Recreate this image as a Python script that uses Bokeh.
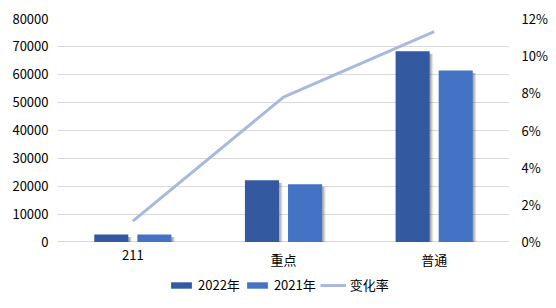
from bokeh.plotting import figure
from bokeh.models import (FactorRange, Range1d, LinearAxis, FixedTicker, NumeralTickFormatter,
                          ColumnDataSource, Legend, LegendItem, BoxAnnotation)
from bokeh.core.properties import value
from bokeh.transform import dodge
from bokeh.embed import file_html
from bokeh.resources import INLINE

categories = ["211", "重点", "普通"]
v2022 = [2700, 22100, 68300]
v2021 = [2650, 20700, 61400]
rate = [0.0112, 0.0778, 0.1130]
left_ticks = [0, 10000, 20000, 30000, 40000, 50000, 60000, 70000, 80000]
right_ticks = [0, 0.02, 0.04, 0.06, 0.08, 0.10, 0.12]

FONT = "Noto Sans CJK SC"
DARK = "#335AA1"
LIGHT = "#4472C4"
LINE = "#A9B8DD"
GRID = "#D9D9D9"

src = ColumnDataSource(dict(cat=categories, v2022=v2022, v2021=v2021, rate=rate,
                            zero=[0, 0, 0],
                            s2022=[v - 900 for v in v2022], s2021=[v - 900 for v in v2021]))

# frame extends below the zero line to leave room for category labels and legend
p = figure(width=556, height=308, x_range=FactorRange(*categories, range_padding=0),
           y_range=Range1d(-22040, 80000), output_backend="svg", toolbar_location=None,
           min_border_left=57, min_border_right=47, min_border_top=18, min_border_bottom=5)
p.extra_y_ranges = {"pct": Range1d(-0.03306, 0.12)}
p.background_fill_color = "white"
p.border_fill_color = "white"
p.outline_line_color = None

# soft shadows
for off, a in [(0.024, 0.08), (0.017, 0.12), (0.010, 0.16)]:
    p.vbar(x=dodge("cat", -0.143 + off, range=p.x_range), top="s2022", bottom=0, width=0.226,
           source=src, fill_color="#000000", fill_alpha=a, line_color=None)
    p.vbar(x=dodge("cat", 0.143 + off, range=p.x_range), top="s2021", bottom=0, width=0.226,
           source=src, fill_color="#000000", fill_alpha=a, line_color=None)

r1 = p.vbar(x=dodge("cat", -0.143, range=p.x_range), top="v2022", width=0.226, source=src,
            fill_color=DARK, line_color=None)
r2 = p.vbar(x=dodge("cat", 0.143, range=p.x_range), top="v2021", width=0.226, source=src,
            fill_color=LIGHT, line_color=None)
r3 = p.line(x="cat", y="rate", source=src, y_range_name="pct", line_color=LINE, line_width=3)

# category labels
p.text(x="cat", y="zero", text="cat", source=src, y_offset=8, text_align="center",
       text_baseline="top", text_font=value(FONT), text_font_size="13px", text_color="#000000")

p.xaxis.visible = False
p.xgrid.visible = False
p.ygrid.grid_line_color = GRID
p.ygrid.ticker = FixedTicker(ticks=left_ticks)

ya = p.yaxis[0]
ya.ticker = FixedTicker(ticks=left_ticks)
ya.axis_line_color = None
ya.major_tick_line_color = None
ya.minor_tick_line_color = None
ya.major_label_text_font = FONT
ya.major_label_text_font_size = "13px"
ya.major_label_text_color = "#000000"
ya.major_label_standoff = 3

ra = LinearAxis(y_range_name="pct", ticker=FixedTicker(ticks=right_ticks),
                formatter=NumeralTickFormatter(format="0%"))
ra.axis_line_color = None
ra.major_tick_line_color = None
ra.minor_tick_line_color = None
ra.major_label_text_font = FONT
ra.major_label_text_font_size = "13px"
ra.major_label_text_color = "#000000"
ra.major_label_standoff = 6
p.add_layout(ra, "right")

legend = Legend(items=[LegendItem(label="2022年", renderers=[r1]),
                       LegendItem(label="2021年", renderers=[r2]),
                       LegendItem(label="变化率", renderers=[r3])],
                orientation="horizontal", location=(111, 9),
                glyph_width=26, glyph_height=8, label_standoff=4, spacing=4,
                label_text_font=FONT, label_text_font_size="13px", label_text_color="#000000",
                border_line_color=None, background_fill_alpha=0, padding=2, margin=0)
p.add_layout(legend, "center")

border = BoxAnnotation(left=4, right=551, top=3, bottom=305,
                       left_units="canvas", right_units="canvas",
                       top_units="canvas", bottom_units="canvas",
                       fill_alpha=0, line_color=GRID, line_width=1, level="overlay")
p.add_layout(border)

open("out.html", "w").write(file_html(p, INLINE))
